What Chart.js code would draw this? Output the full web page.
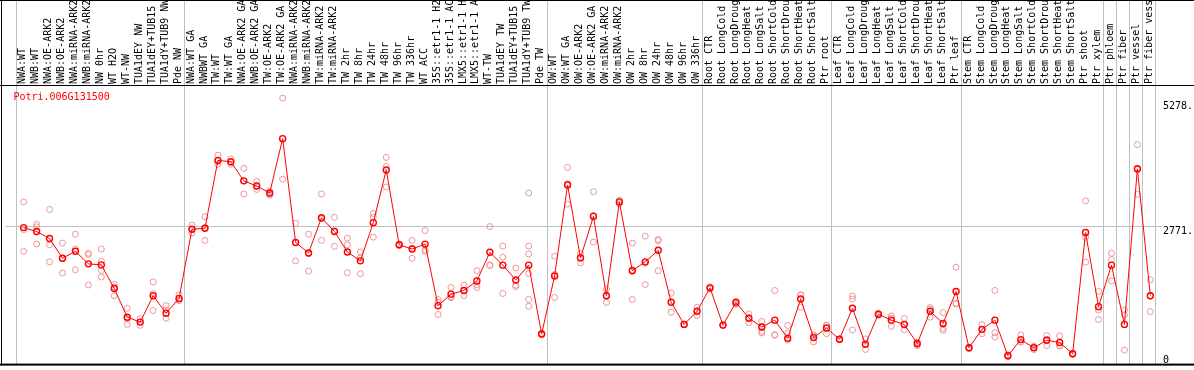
<!DOCTYPE html>
<html><head><meta charset="utf-8">
<style>html,body{margin:0;padding:0;background:#fff;}canvas{display:block;}</style>
<script src="https://cdn.jsdelivr.net/npm/chart.js@4.4.1/dist/chart.umd.min.js"></script>
</head><body>
<canvas id="c" width="1194" height="370"></canvas>
<script>
const geneId = 'Potri.006G131500';

const categories = [
  'NWA:WT','NWB:WT','NWA:OE-ARK2','NWB:OE-ARK2','NWA:miRNA-ARK2','NWB:miRNA-ARK2','NW 0hr','WT H2O','WT-NW','TUA1dEY NW','TUA1dEY+TUB15','TUA1dY+TUB9 NW','Pde NW',
  'NWA:WT GA','NWBWT GA','TW:WT','TW:WT GA','NWA:OE-ARK2 GA','NWB:OE-ARK2 GA','TW:OE-ARK2','TW:OE-ARK2 GA','NWA:miRNA-ARK2','NWB:miRNA-ARK2','TW:miRNA-ARK2','TW:miRNA-ARK2','TW 2hr','TW 8hr','TW 24hr','TW 48hr','TW 96hr','TW 336hr','WT ACC','35S::etr1-1 H2O','35S::etr1-1 ACC','LMX5::etr1-1 H2O','LMX5::etr1-1 ACC','WT-TW','TUA1dEY TW','TUA1dEY+TUB15','TUA1dY+TUB9 TW','Pde TW',
  'OW:WT','OW:WT GA','OW:OE-ARK2','OW:OE-ARK2 GA','OW:miRNA-ARK2','OW:miRNA-ARK2','OW 2hr','OW 8hr','OW 24hr','OW 48hr','OW 96hr','OW 336hr',
  'Root CTR','Root LongCold','Root LongDrought','Root LongHeat','Root LongSalt','Root ShortCold','Root ShortDrought','Root ShortHeat','Root ShortSalt','Ptr root',
  'Leaf CTR','Leaf LongCold','Leaf LongDrought','Leaf LongHeat','Leaf LongSalt','Leaf ShortCold','Leaf ShortDrought','Leaf ShortHeat','Leaf ShortSalt','Ptr leaf',
  'Stem CTR','Stem LongCold','Stem LongDrought','Stem LongHeat','Stem LongSalt','Stem ShortCold','Stem ShortDrought','Stem ShortHeat','Stem ShortSalt','Ptr shoot','Ptr xylem',
  'Ptr phloem','Ptr fiber','Ptr vessel','Ptr fiber vessel'
];

const means = [
  2751,2672,2533,2136,2275,2023,2003,1527,952,853,1383,1032,1329,
  2718,2737,4100,4073,3690,3585,3446,4537,2454,2242,2949,2672,2261,2083,2850,3908,2406,2321,2420,1184,1415,1488,1680,2255,1997,1700,1997,615,
  1779,3605,2142,2976,1383,3267,1885,2063,2295,1250,807,1071,
  1541,793,1250,932,754,893,529,1316,542,734,
  509,1131,410,1012,893,807,423,1071,826,1468,
  337,708,893,179,502,337,490,443,218,2652,1164,
  1997,807,3928,1383
];

const replicates = [
  [3267,2711,2275],[2817,2767,2420],[3114,2406,2063],[2440,2130,1838],[2618,2321,1904],[2235,2209,1600],[2321,2076,1891,1759],[1613,1560,1383],[1131,918,807],[919,853,788],[1660,1428,1085],[1184,1100,932],[1402,1302,1283],
  [2800,2718,2640],[2969,2749,2493],[4205,4080,4021],[4130,4060,4021],[3941,3690,3426],[3677,3585,3518],[3480,3426,3400],[5350,4537,3724],[2837,2442,2083],[2618,2230,1878],[3426,2928,2493],[2956,2686,2374],[2539,2406,1845],[2261,2142,1825],[3035,2960,2559],[4160,3980,3565],[2420,2400,2390],[2493,2334,2136],[2692,2300,2270],[1303,1250,1006],[1547,1360,1343],[1593,1488,1383],[1885,1600,1547],[2771,2003,1990],[2380,2156,1428],[1938,1595,1567],[3446,2380,2222,1831,1309,1170],[630,610,600],
  [2176,1812,1349],[3961,3634,3220],[2228,2155,2043],[3471,2997,2460],[1514,1385,1250],[3300,3267,3230],[2440,1906,1309],[2579,2036,1607],[2513,2490,1885],[1434,1270,1051],[815,807,800],[1151,1077,985],
  [1560,1530,1520],[800,790,785],[1270,1230,1210],[1018,940,839],[866,740,668,635],[1488,600,589],[787,635,490],[1402,1395,1151],[595,575,456],[794,787,621],
  [520,505,500],[1375,1316,694],[516,410,304],[1030,1000,990],[978,934,767],[926,794,701],[450,400,380],[1144,1117,952],[1045,727,687],[1958,1230,1216],
  [340,330,320],[800,703,621],[1488,641,555],[200,180,160],[595,456,455],[370,340,300],[582,505,384],[575,384,370],[230,215,210],[3287,2559,2057],[1468,1098,905],
  [2235,2109,1680],[1098,998,291],[4417,3948,3418],[1706,1378,1065]
];

const groupStarts = [0, 13, 41, 53, 63, 73, 84, 85, 86, 87, 88];
const yTickValues = [0, 2771, 5278];
const yTickLabels = ['0', '2771.', '5278.'];
const yMax = 5594;

const FONT = 'DejaVu Sans Mono';

const framePlugin = {
  id: 'frame',
  beforeDatasetsDraw(chart) {
    const {ctx, chartArea} = chart;
    const xs = chart.scales.x;
    ctx.save();
    ctx.fillStyle = '#c0c0c0';
    groupStarts.forEach(b => {
      const px = Math.round(xs.getPixelForValue(b - 0.62));
      ctx.fillRect(px, 0, 1, chartArea.bottom);
    });
    ctx.fillStyle = '#000';
    ctx.fillRect(0, 0, chart.width, 1);
    ctx.fillRect(0, chartArea.top - 1, chart.width, 1);
    ctx.fillRect(1, 0, 1, chartArea.bottom + 1);
    ctx.fillRect(0, chartArea.bottom - 1, chart.width, 2);
    ctx.restore();
  },
  afterDraw(chart) {
    const {ctx, chartArea} = chart;
    const ys = chart.scales.y;
    ctx.save();
    ctx.font = '10px "' + FONT + '"';
    ctx.textBaseline = 'top';
    ctx.textAlign = 'left';
    ctx.fillStyle = '#000';
    yTickValues.forEach((v, k) => {
      const py = Math.min(ys.getPixelForValue(v), chartArea.bottom - 9.5);
      ctx.fillText(yTickLabels[k], chartArea.right + 6, py);
    });
    ctx.fillStyle = '#ff0000';
    ctx.fillText(geneId, chartArea.left + 8, chartArea.top + 6);
    ctx.restore();
  }
};

const meanPoints = means.map((v, i) => ({x: i, y: v}));
const repPoints = replicates.flatMap((arr, i) => arr.map(v => ({x: i, y: v})));

new Chart(document.getElementById('c'), {
  type: 'scatter',
  data: {
    datasets: [
      {
        data: meanPoints, showLine: true, tension: 0,
        borderColor: '#ff0000', borderWidth: 1,
        pointRadius: 3, pointBorderWidth: 1.4,
        pointBorderColor: '#ff0000', pointBackgroundColor: 'rgba(0,0,0,0)',
        order: 0
      },
      {
        data: repPoints, showLine: false,
        pointRadius: 3, pointBorderWidth: 1,
        pointBorderColor: '#ec9696', pointBackgroundColor: 'rgba(0,0,0,0)',
        order: 1
      }
    ]
  },
  options: {
    responsive: false,
    animation: false,
    devicePixelRatio: 1,
    layout: {padding: {left: 1, right: 0, top: 0, bottom: 2}},
    plugins: {legend: {display: false}, tooltip: {enabled: false}},
    scales: {
      x: {
        type: 'linear', position: 'top', min: -1.408, max: 87.515,
        afterBuildTicks: s => { s.ticks = categories.map((_, i) => ({value: i})); },
        afterFit: s => { s.height = 86; },
        grid: {display: false, drawTicks: false},
        border: {display: false},
        ticks: {
          autoSkip: false, minRotation: 90, maxRotation: 90, padding: 2, labelOffset: 11,
          color: '#000', font: {family: FONT, size: 10},
          callback: v => categories[v] ?? ''
        }
      },
      y: {
        type: 'linear', position: 'right', min: 0, max: yMax,
        afterBuildTicks: s => { s.ticks = yTickValues.map(v => ({value: v})); },
        afterFit: s => { s.width = 37; },
        grid: {
          color: c => (c.tick && c.tick.value === 2771) ? '#c0c0c0' : 'rgba(0,0,0,0)',
          tickLength: 5, lineWidth: 1
        },
        border: {display: false},
        ticks: {display: false}
      }
    }
  },
  plugins: [framePlugin]
});
</script>
</body></html>
